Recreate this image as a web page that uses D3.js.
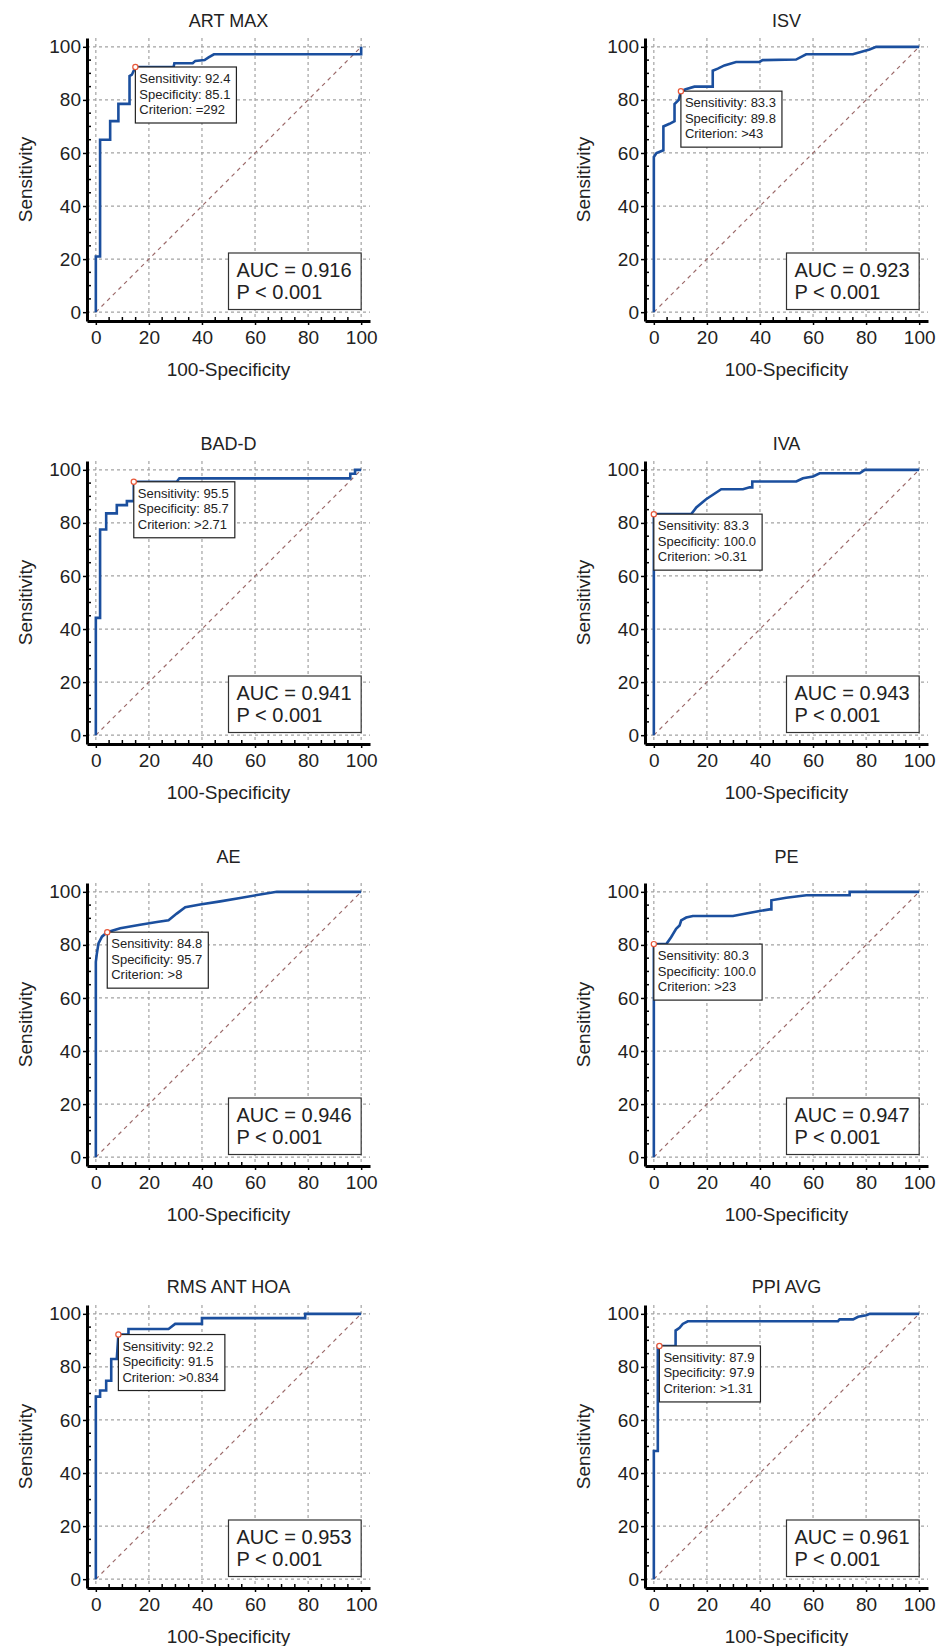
<!DOCTYPE html>
<html lang="en">
<head>
<meta charset="UTF-8">
<title>ROC curves</title>
<script src="https://cdnjs.cloudflare.com/ajax/libs/d3/7.9.0/d3.min.js"></script>
<style>
    body { margin: 0; background: #fff; }
    svg text { font-family: "Liberation Sans", Arial, sans-serif; fill: #222; }
</style>
</head>
<body>
<svg id="chart" width="942" height="1646"></svg>
<script>
// panel titles and results
const panelTitles = ["ART MAX", "ISV", "BAD-D", "IVA", "AE", "PE", "RMS ANT HOA", "PPI AVG"];
const aucValues = ["0.916", "0.923", "0.941", "0.943", "0.946", "0.947", "0.953", "0.961"];
const pValues = ["< 0.001", "< 0.001", "< 0.001", "< 0.001", "< 0.001", "< 0.001", "< 0.001", "< 0.001"];
const cutSens = [92.4, 83.3, 95.5, 83.3, 84.8, 80.3, 92.2, 87.9];
const cutSpec = [85.1, 89.8, 85.7, 100.0, 95.7, 100.0, 91.5, 97.9];
const criteria = ["=292", ">43", ">2.71", ">0.31", ">8", ">23", ">0.834", ">1.31"];
const tickValues = [0, 20, 40, 60, 80, 100];
const minorTicks = d3.range(0, 101, 5).filter(v => v % 20 !== 0);

// ROC curves: [100-specificity, sensitivity]
const artMax = [[0,0],[0,21],[1.6,21],[1.6,65],[5.4,65],[5.4,72],[8.5,72],[8.5,78.5],[12.7,78.5],[12.7,89],[13.6,89.5],[14.9,92.4],[29.3,92.4],[29.6,93.8],[36.5,93.8],[37.5,94.7],[41,95],[42.5,96],[44.5,97.2],[100,97.2],[100,100]];
const isv = [[0,0],[0,58.5],[1,60],[3.6,61],[3.6,70],[5.9,71],[7.8,72],[7.8,78.4],[9.4,80],[10.2,83.3],[12,84],[15.3,85],[22.2,85],[22.2,91],[24.1,91.8],[26.6,93],[31,94.3],[39.8,94.3],[41,95],[53.6,95.2],[57.4,97.2],[75,97.2],[81.3,99],[83.8,100],[100,100]];
const badD = [[0,0],[0,44.2],[1.6,44.2],[1.6,77.5],[3.9,77.5],[3.9,83.6],[7.9,83.6],[7.9,86.7],[11.7,86.7],[11.7,88.2],[14.3,88.2],[14.3,95.5],[30.5,95.5],[31.5,96.8],[95.9,96.8],[95.9,98.5],[97.7,98.5],[97.7,100],[100,100]];
const iva = [[0,0],[0,83.3],[14.1,83.3],[16,85.8],[19.7,88.9],[25.4,92.7],[33.6,92.7],[36.1,93.4],[37.1,93.4],[37.1,95.6],[53.7,95.6],[56.2,96.8],[60,97.5],[62.5,98.7],[77.6,98.7],[79.5,100],[100,100]];
const ae = [[0,0],[0,73.6],[0.4,76.8],[1,80.6],[2.3,83.1],[4.3,84.8],[9.2,86.3],[16.7,87.6],[23,88.6],[27.4,89.3],[30.5,91.8],[33.7,94.2],[39.3,95.2],[46.9,96.4],[54.4,97.7],[61.9,99],[68.2,100],[100,100]];
const pe = [[0,0],[0,80.3],[4.7,80.3],[6.5,82.9],[8.4,86.1],[9.7,87.3],[10.3,89.2],[12.2,90.3],[14.7,90.9],[29.8,90.9],[34.8,91.8],[39.9,92.8],[43.6,93.4],[44.3,93.4],[44.3,96.8],[49.9,97.8],[57.5,98.7],[73.8,98.7],[73.8,100],[100,100]];
const rmsAntHoa = [[0,0],[0,68.8],[1.6,68.8],[1.6,71.1],[3.9,71.1],[3.9,74.8],[5.8,74.8],[5.8,83],[7.9,83],[8.5,92.2],[12.3,92.2],[12.3,94.3],[27.4,94.3],[29.9,96.2],[40,96.2],[40,98.4],[78.9,98.4],[78.9,100],[100,100]];
const ppiAvg = [[0,0],[0,48.3],[1.5,48.3],[1.5,87.9],[8.2,87.9],[8.2,93.7],[9.7,94.7],[10.9,96.2],[12.8,97.2],[69.4,97.2],[70,97.9],[75.1,97.9],[77,98.9],[80.1,99.5],[81.4,100],[100,100]];
const curves = [artMax, isv, badD, iva, ae, pe, rmsAntHoa, ppiAvg];

// layout
const colLeft = [87, 645];
const rowTop = [38, 461, 883, 1305];
const titleGap = [11, 11, 20, 12];
const size = 283;

const svg = d3.select("#chart");

const x = d3.scaleLinear().domain([-3.33, 103.33]).range([0, size]);
const y = d3.scaleLinear().domain([-3.33, 103.33]).range([size, 0]);

panelTitles.forEach(function (title, i) {
    const row = Math.floor(i / 2), col = i % 2;
    const g = svg.append("g")
        .attr("transform", `translate(${colLeft[col]},${rowTop[row]})`);

    // dashed grid
    g.append("g").selectAll("line.h")
        .data(tickValues).enter().append("line")
        .attr("x1", 0).attr("x2", size)
        .attr("y1", d => y(d)).attr("y2", d => y(d))
        .attr("stroke", "#a3a3a3").attr("stroke-width", 1.2)
        .attr("stroke-dasharray", "3,3");
    g.append("g").selectAll("line.v")
        .data(tickValues).enter().append("line")
        .attr("y1", 0).attr("y2", size)
        .attr("x1", d => x(d)).attr("x2", d => x(d))
        .attr("stroke", "#a3a3a3").attr("stroke-width", 1.2)
        .attr("stroke-dasharray", "3,3");

    // reference diagonal
    g.append("line")
        .attr("x1", x(0)).attr("y1", y(0))
        .attr("x2", x(100)).attr("y2", y(100))
        .attr("stroke", "#9c6a6a").attr("stroke-width", 1.2)
        .attr("stroke-dasharray", "4,4");

    // ROC curve
    g.append("path")
        .datum(curves[i])
        .attr("fill", "none")
        .attr("stroke", "#1b4f9e")
        .attr("stroke-width", 2.6)
        .attr("stroke-linejoin", "miter")
        .attr("d", d3.line().x(d => x(d[0])).y(d => y(d[1])));

    // axes
    const yAxis = g.append("g")
        .call(d3.axisLeft(y).tickValues(tickValues).tickSize(4).tickSizeOuter(0).tickPadding(2));
    const xAxis = g.append("g")
        .attr("transform", `translate(0,${size})`)
        .call(d3.axisBottom(x).tickValues(tickValues).tickSize(4).tickSizeOuter(0).tickPadding(6));
    [xAxis, yAxis].forEach(function (a) {
        a.select(".domain").attr("stroke", "#000").attr("stroke-width", 3);
        a.selectAll(".tick line").attr("stroke", "#000").attr("stroke-width", 1.5);
        a.selectAll(".tick text").attr("font-size", 19).attr("fill", "#222")
            .attr("font-family", '"Liberation Sans", Arial, sans-serif');
    });

    // minor ticks, pointing inward
    g.append("g").selectAll("line")
        .data(minorTicks).enter().append("line")
        .attr("x1", 0).attr("x2", 4)
        .attr("y1", d => y(d)).attr("y2", d => y(d))
        .attr("stroke", "#000").attr("stroke-width", 1.5);
    g.append("g").selectAll("line")
        .data(minorTicks).enter().append("line")
        .attr("y1", size).attr("y2", size - 4)
        .attr("x1", d => x(d)).attr("x2", d => x(d))
        .attr("stroke", "#000").attr("stroke-width", 1.5);

    // labels
    g.append("text")
        .attr("x", size / 2).attr("y", -titleGap[row])
        .attr("text-anchor", "middle")
        .attr("font-size", 18)
        .text(title);
    g.append("text")
        .attr("x", size / 2).attr("y", size + 55)
        .attr("text-anchor", "middle")
        .attr("font-size", 19)
        .text("100-Specificity");
    g.append("text")
        .attr("transform", `translate(-55,${size / 2}) rotate(-90)`)
        .attr("text-anchor", "middle")
        .attr("font-size", 19)
        .text("Sensitivity");

    // AUC box
    const bx = x(50), by = y(22.3);
    g.append("rect")
        .attr("x", bx).attr("y", by)
        .attr("width", x(100) - bx).attr("height", y(1) - by)
        .attr("fill", "#fff").attr("stroke", "#333").attr("stroke-width", 1.2);
    g.append("text")
        .attr("x", bx + 8).attr("y", by + 24.5)
        .attr("font-size", 20)
        .text("AUC = " + aucValues[i]);
    g.append("text")
        .attr("x", bx + 8).attr("y", by + 46.5)
        .attr("font-size", 20)
        .text("P " + pValues[i]);

    // optimal cut-off point and its label
    const px = x(100 - cutSpec[i]), py = y(cutSens[i]);
    const lines = [
        "Sensitivity: " + cutSens[i].toFixed(1),
        "Specificity: " + cutSpec[i].toFixed(1),
        "Criterion: " + criteria[i]
    ];
    const box = g.append("rect")
        .attr("x", px).attr("y", py)
        .attr("height", 56)
        .attr("fill", "#fff").attr("stroke", "#222").attr("stroke-width", 1.2);
    let maxW = 0;
    lines.forEach(function (t, k) {
        const node = g.append("text")
            .attr("x", px + 4).attr("y", py + 16 + k * 15.5)
            .attr("font-size", 13)
            .text(t);
        maxW = Math.max(maxW, node.node().getComputedTextLength());
    });
    box.attr("width", maxW + 10);

    g.append("circle")
        .attr("cx", px).attr("cy", py).attr("r", 2.6)
        .attr("fill", "#fff").attr("stroke", "#e8583a").attr("stroke-width", 1.2);
});
</script>
</body>
</html>
